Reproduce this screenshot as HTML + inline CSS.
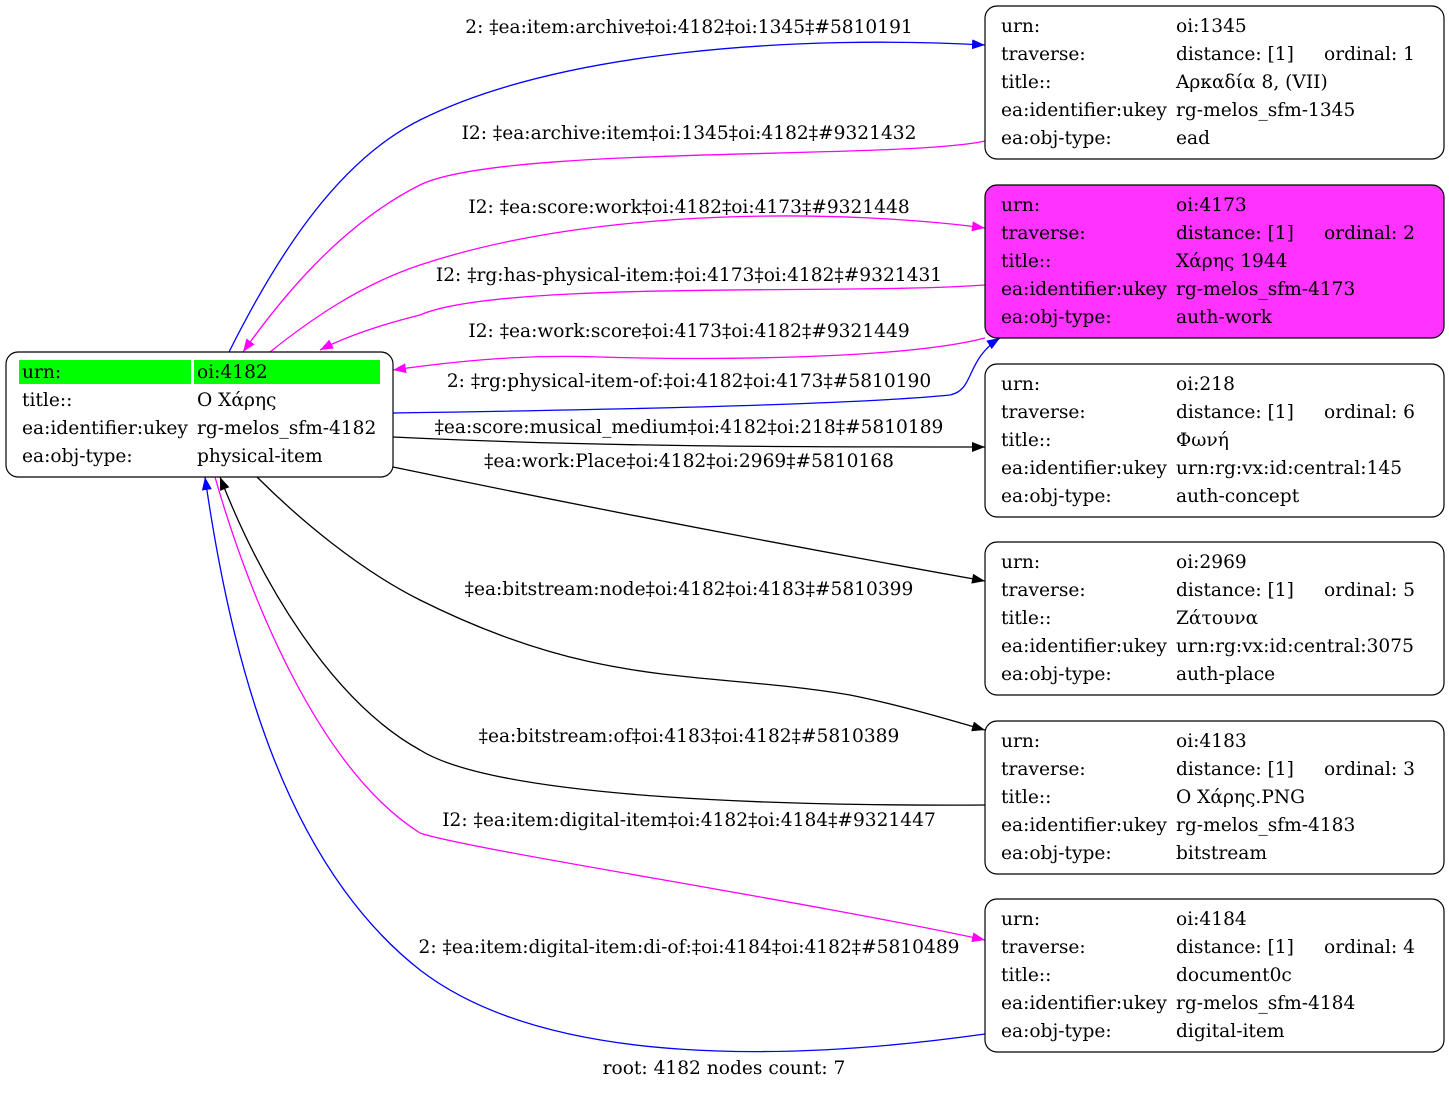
<!DOCTYPE html>
<html><head><meta charset="utf-8"><style>
html,body{margin:0;padding:0;background:#fff}
svg text{font-family:"DejaVu Serif","Liberation Serif",serif;font-size:18.6px;fill:#000}
</style></head><body>
<svg width="1449" height="1089" viewBox="0 0 1449 1089" xmlns="http://www.w3.org/2000/svg">
<defs>
<marker id="mb" markerUnits="userSpaceOnUse" markerWidth="14" markerHeight="12" refX="13" refY="5" orient="auto"><path d="M0,0 L13,5 L0,10 z" fill="#0000ff"/></marker>
<marker id="mm" markerUnits="userSpaceOnUse" markerWidth="14" markerHeight="12" refX="13" refY="5" orient="auto"><path d="M0,0 L13,5 L0,10 z" fill="#ff00ff"/></marker>
<marker id="mk" markerUnits="userSpaceOnUse" markerWidth="14" markerHeight="12" refX="13" refY="5" orient="auto"><path d="M0,0 L13,5 L0,10 z" fill="#000"/></marker>
</defs>
<g fill="none" stroke-width="1.3">
<path d="M229,352 C280,250 340,160 420,120 C560,50 800,35 985,45" stroke="#0000ff" marker-end="url(#mb)"/>
<path d="M985,141 C900,160 500,145 420,185 C340,225 280,300 243,352" stroke="#ff00ff" marker-end="url(#mm)"/>
<path d="M270,352 C310,320 360,285 420,265 C600,205 850,210 985,228" stroke="#ff00ff" marker-end="url(#mm)"/>
<path d="M985,285 C850,295 500,280 420,315 C380,325 345,337 320,350" stroke="#ff00ff" marker-end="url(#mm)"/>
<path d="M985,338 C900,360 700,360 600,357 C520,354 450,362 393,370" stroke="#ff00ff" marker-end="url(#mm)"/>
<path d="M393,413 C600,410 850,405 950,395 C975,390 965,360 1000,338" stroke="#0000ff" marker-end="url(#mb)"/>
<path d="M393,437 C600,447 800,447 985,447" stroke="#000" marker-end="url(#mk)"/>
<path d="M393,467 C600,510 800,548 985,581" stroke="#000" marker-end="url(#mk)"/>
<path d="M257,477 C300,520 360,570 420,600 C600,690 700,670 850,695 C900,705 950,720 985,730" stroke="#000" marker-end="url(#mk)"/>
<path d="M985,805 C800,806 500,800 420,750 C330,700 260,580 220,477" stroke="#000" marker-end="url(#mk)"/>
<path d="M215,477 C250,600 320,770 420,833 C470,850 800,900 985,940" stroke="#ff00ff" marker-end="url(#mm)"/>
<path d="M985,1034 C800,1060 550,1070 420,970 C280,860 230,650 205,477" stroke="#0000ff" marker-end="url(#mb)"/>
</g>
<g text-anchor="middle">
<text x="689" y="33">2: ‡ea:item:archive‡oi:4182‡oi:1345‡#5810191</text>
<text x="689" y="139">I2: ‡ea:archive:item‡oi:1345‡oi:4182‡#9321432</text>
<text x="689" y="213">I2: ‡ea:score:work‡oi:4182‡oi:4173‡#9321448</text>
<text x="689" y="281">I2: ‡rg:has-physical-item:‡oi:4173‡oi:4182‡#9321431</text>
<text x="689" y="337">I2: ‡ea:work:score‡oi:4173‡oi:4182‡#9321449</text>
<text x="689" y="387">2: ‡rg:physical-item-of:‡oi:4182‡oi:4173‡#5810190</text>
<text x="689" y="433">‡ea:score:musical_medium‡oi:4182‡oi:218‡#5810189</text>
<text x="689" y="467">‡ea:work:Place‡oi:4182‡oi:2969‡#5810168</text>
<text x="689" y="595">‡ea:bitstream:node‡oi:4182‡oi:4183‡#5810399</text>
<text x="689" y="742">‡ea:bitstream:of‡oi:4183‡oi:4182‡#5810389</text>
<text x="689" y="826">I2: ‡ea:item:digital-item‡oi:4182‡oi:4184‡#9321447</text>
<text x="689" y="953">2: ‡ea:item:digital-item:di-of:‡oi:4184‡oi:4182‡#5810489</text>
<text x="724" y="1074">root: 4182 nodes count: 7</text>
</g>
<rect x="6" y="352" width="387" height="125" rx="12" fill="#fff" stroke="#000" stroke-width="1.2"/>
<rect x="19" y="360" width="172" height="24" fill="#00ff00"/>
<rect x="194" y="360" width="186" height="24" fill="#00ff00"/>
<text x="22" y="378">urn:</text><text x="197" y="378">oi:4182</text>
<text x="22" y="406">title::</text><text x="197" y="406">Ο Χάρης</text>
<text x="22" y="434">ea:identifier:ukey</text><text x="197" y="434">rg-melos_sfm-4182</text>
<text x="22" y="462">ea:obj-type:</text><text x="197" y="462">physical-item</text>
<g stroke="#000" stroke-width="1.2">
<rect x="985" y="6" width="459" height="153" rx="12" fill="#fff"/>
<rect x="985" y="185" width="459" height="153" rx="12" fill="#ff33ff"/>
<rect x="985" y="364" width="459" height="153" rx="12" fill="#fff"/>
<rect x="985" y="542" width="459" height="153" rx="12" fill="#fff"/>
<rect x="985" y="721" width="459" height="153" rx="12" fill="#fff"/>
<rect x="985" y="899" width="459" height="153" rx="12" fill="#fff"/>
</g>
<g>
<text x="1001" y="32">urn:</text><text x="1176" y="32">oi:1345</text>
<text x="1001" y="60">traverse:</text><text x="1176" y="60">distance: [1]</text><text x="1324" y="60">ordinal: 1</text>
<text x="1001" y="88">title::</text><text x="1176" y="88">Αρκαδία 8, (VII)</text>
<text x="1001" y="116">ea:identifier:ukey</text><text x="1176" y="116">rg-melos_sfm-1345</text>
<text x="1001" y="144">ea:obj-type:</text><text x="1176" y="144">ead</text>

<text x="1001" y="211">urn:</text><text x="1176" y="211">oi:4173</text>
<text x="1001" y="239">traverse:</text><text x="1176" y="239">distance: [1]</text><text x="1324" y="239">ordinal: 2</text>
<text x="1001" y="267">title::</text><text x="1176" y="267">Χάρης 1944</text>
<text x="1001" y="295">ea:identifier:ukey</text><text x="1176" y="295">rg-melos_sfm-4173</text>
<text x="1001" y="323">ea:obj-type:</text><text x="1176" y="323">auth-work</text>

<text x="1001" y="390">urn:</text><text x="1176" y="390">oi:218</text>
<text x="1001" y="418">traverse:</text><text x="1176" y="418">distance: [1]</text><text x="1324" y="418">ordinal: 6</text>
<text x="1001" y="446">title::</text><text x="1176" y="446">Φωνή</text>
<text x="1001" y="474">ea:identifier:ukey</text><text x="1176" y="474">urn:rg:vx:id:central:145</text>
<text x="1001" y="502">ea:obj-type:</text><text x="1176" y="502">auth-concept</text>

<text x="1001" y="568">urn:</text><text x="1176" y="568">oi:2969</text>
<text x="1001" y="596">traverse:</text><text x="1176" y="596">distance: [1]</text><text x="1324" y="596">ordinal: 5</text>
<text x="1001" y="624">title::</text><text x="1176" y="624">Ζάτουνα</text>
<text x="1001" y="652">ea:identifier:ukey</text><text x="1176" y="652">urn:rg:vx:id:central:3075</text>
<text x="1001" y="680">ea:obj-type:</text><text x="1176" y="680">auth-place</text>

<text x="1001" y="747">urn:</text><text x="1176" y="747">oi:4183</text>
<text x="1001" y="775">traverse:</text><text x="1176" y="775">distance: [1]</text><text x="1324" y="775">ordinal: 3</text>
<text x="1001" y="803">title::</text><text x="1176" y="803">Ο Χάρης.PNG</text>
<text x="1001" y="831">ea:identifier:ukey</text><text x="1176" y="831">rg-melos_sfm-4183</text>
<text x="1001" y="859">ea:obj-type:</text><text x="1176" y="859">bitstream</text>

<text x="1001" y="925">urn:</text><text x="1176" y="925">oi:4184</text>
<text x="1001" y="953">traverse:</text><text x="1176" y="953">distance: [1]</text><text x="1324" y="953">ordinal: 4</text>
<text x="1001" y="981">title::</text><text x="1176" y="981">document0c</text>
<text x="1001" y="1009">ea:identifier:ukey</text><text x="1176" y="1009">rg-melos_sfm-4184</text>
<text x="1001" y="1037">ea:obj-type:</text><text x="1176" y="1037">digital-item</text>
</g>
</svg>
</body></html>
